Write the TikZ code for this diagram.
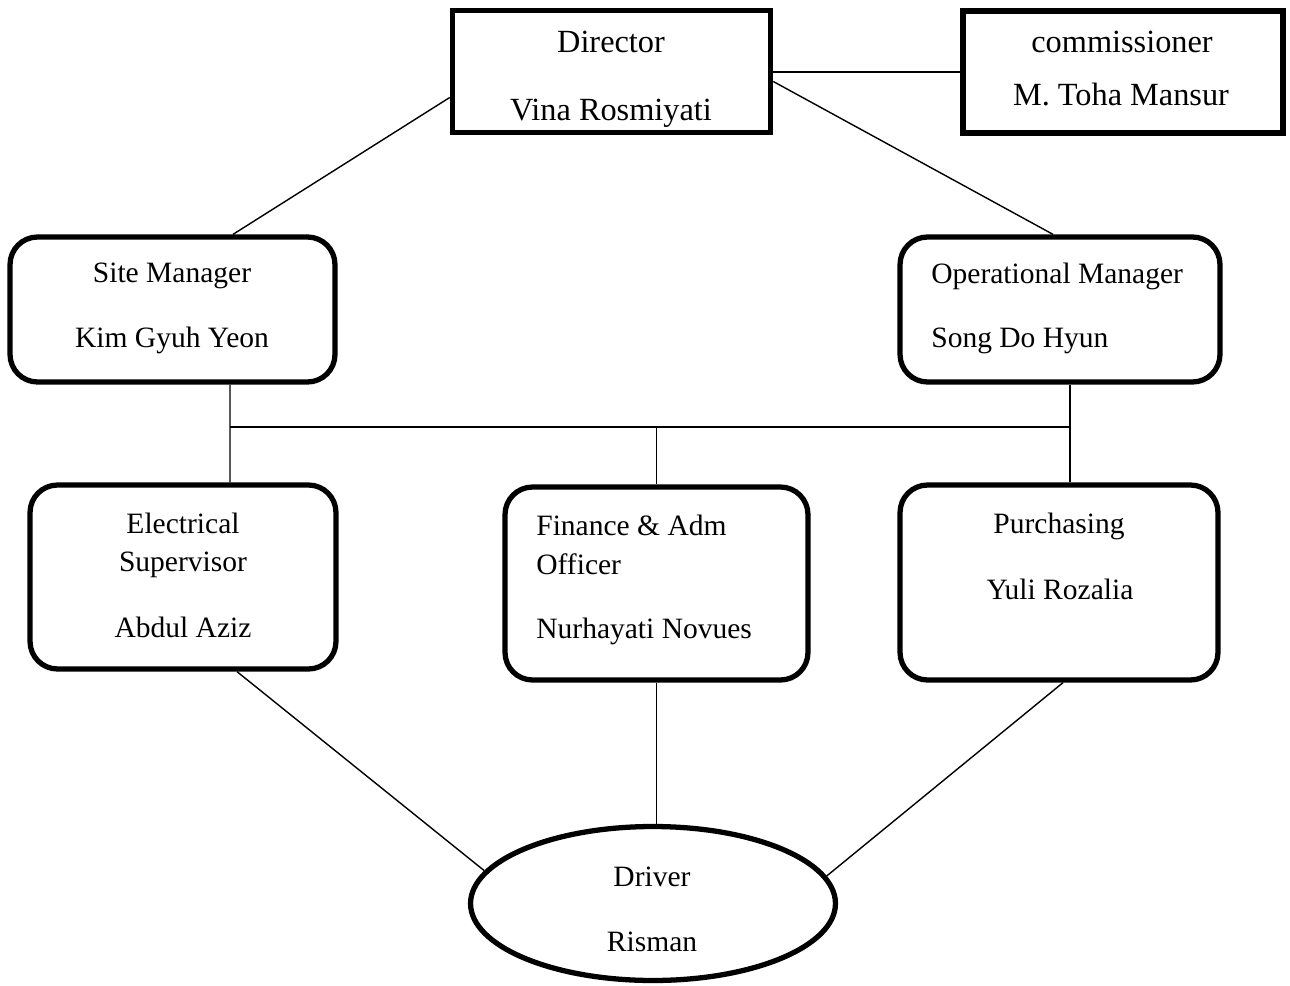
\documentclass[tikz,border=0pt]{standalone}
\usepackage{fontspec}
\setmainfont{Liberation Serif}
\usetikzlibrary{shapes.geometric}
\tikzset{
  sqbox/.style={draw, line width=3.2pt, inner sep=0pt, rectangle},
  rbox/.style={draw, line width=3pt, inner sep=0pt, rectangle, rounded corners=0.55cm},
  oval/.style={draw, line width=3pt, inner sep=0pt, ellipse},
  txt/.style={inner sep=0pt, anchor=base, font=\fontsize{16.8}{20}\selectfont},
  ttxt/.style={txt, font=\fontsize{18.4}{22}\selectfont},
  ltxt/.style={txt, anchor=base west},
  conn/.style={line width=0.8pt}
}
\begin{document}
\begin{tikzpicture}[x=0.02cm, y=-0.02cm]
\useasboundingbox (0,0) rectangle (1290,986);
% boxes
\node[sqbox, minimum width=6.36cm, minimum height=2.44cm] (dir) at (611.5,71.5) {};
\node[sqbox, minimum width=6.4cm, minimum height=2.44cm] (com) at (1123,72) {};
\node[rbox, minimum width=6.5cm, minimum height=2.9cm] (site) at (172.5,309.5) {};
\node[rbox, minimum width=6.4cm, minimum height=2.9cm] (op) at (1060,309.5) {};
\node[rbox, minimum width=6.12cm, minimum height=3.68cm] (elec) at (183,577) {};
\node[rbox, minimum width=6.06cm, minimum height=3.86cm] (fin) at (656.5,583.5) {};
\node[rbox, minimum width=6.36cm, minimum height=3.9cm] (pur) at (1059,582.5) {};
\node[oval, minimum width=7.3cm, minimum height=3.08cm] (drv) at (653,903.5) {};
% texts
\node[ttxt] (t1) at (611,53) {Director};
\node[ttxt] (t2) at (611,121) {Vina Rosmiyati};
\node[ttxt] (t3) at (1122,53) {commissioner};
\node[ttxt] (t4) at (1121,106) {M. Toha Mansur};
\node[txt] (t5) at (172,282) {Site Manager};
\node[txt] (t6) at (172,347) {Kim Gyuh Yeon};
\node[ltxt] (t7) at (931,283) {Operational Manager};
\node[ltxt] (t8) at (931,347) {Song Do Hyun};
\node[txt] (t9) at (183,533) {Electrical};
\node[txt] (t10) at (183,571) {Supervisor};
\node[txt] (t11) at (183,637) {Abdul Aziz};
\node[ltxt] (t12) at (536,535) {Finance \& Adm};
\node[ltxt] (t13) at (536,574) {Officer};
\node[ltxt] (t14) at (536,638) {Nurhayati Novues};
\node[txt] (t15) at (1059,533) {Purchasing};
\node[txt] (t16) at (1060,599) {Yuli Rozalia};
\node[txt] (t17) at (652,886) {Driver};
\node[txt] (t18) at (652,951) {Risman};
% connectors
\draw[conn] ([yshift=-0.52cm]dir.west) -- ([xshift=1.21cm]site.north);
\draw[conn] ([yshift=-0.2cm]dir.east) -- ([xshift=-0.14cm]op.north);
\draw[conn] (com.west) -- (com.west -| dir.east);
\coordinate (busL) at (230,427);
\coordinate (busR) at (1070,427);
\draw[conn] ([xshift=1.15cm]site.south) -- ([xshift=0.94cm]elec.north);
\draw[conn] ([xshift=0.2cm]op.south) -- ([xshift=0.22cm]pur.north);
\draw[conn] (busL) -- (busR);
\draw[conn] (fin.north) -- (fin.north |- busL);
\draw[conn] ([xshift=1.08cm]elec.south) -- (drv.169);
\draw[conn] ([xshift=0.08cm]pur.south) -- (drv.9);
\draw[conn] (fin.south) -- (fin.south |- drv.north);
\end{tikzpicture}
\end{document}
